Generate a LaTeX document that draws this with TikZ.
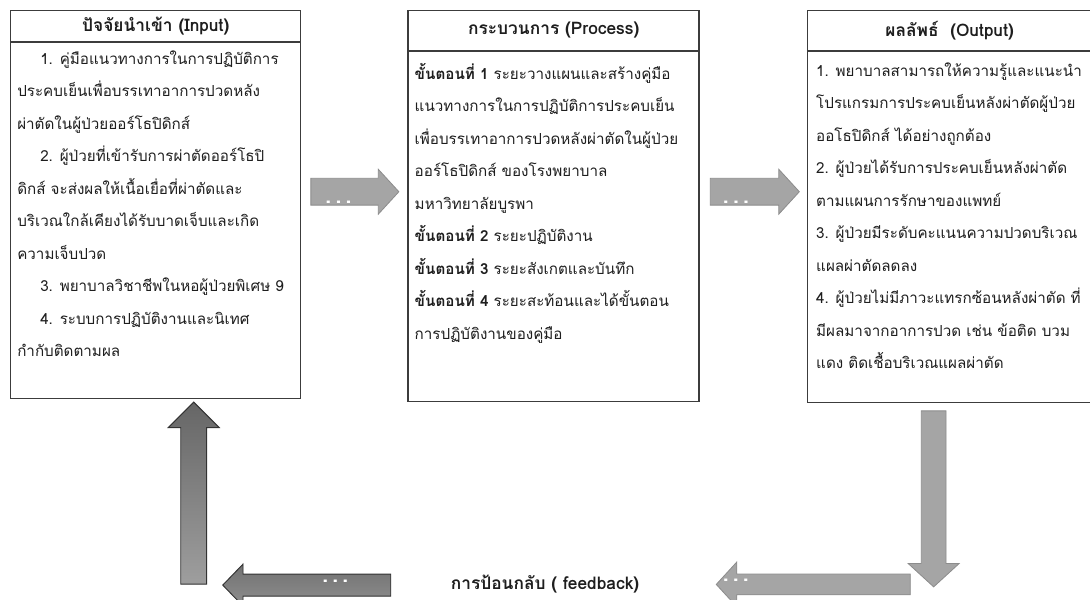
\documentclass[tikz,border=0pt]{standalone}
\usepackage{fontspec}
\setmainfont[Script=Thai]{Loma}
\usetikzlibrary{positioning, calc, shapes.arrows}
\definecolor{boxline}{HTML}{3C3C3C}
\definecolor{txt}{HTML}{1E1E1E}
\definecolor{lightarrow}{HTML}{A5A5A5}
\definecolor{lightedge}{HTML}{8C8C8C}
\definecolor{darkedge}{HTML}{333333}
\tikzstyle{Box} = [draw=boxline, line width=1.1pt, inner sep=0pt, anchor=north west]
\tikzstyle{Rule} = [draw=boxline, line width=1.1pt]
\tikzstyle{Head} = [font=\bfseries\fontsize{13}{16}\selectfont, text=txt, inner sep=0pt]
\tikzstyle{Body} = [font=\fontsize{11.4}{24.4}\selectfont, text=txt, align=left, inner sep=0pt, anchor=base west]
\tikzstyle{BlockArrow} = [single arrow, text width=0pt, text height=0pt, text depth=0pt,
single arrow tip angle=95, draw=lightedge, fill=lightarrow, line width=0.6pt]
\tikzstyle{DarkArrow} = [BlockArrow, draw=darkedge, line width=0.7pt]
\tikzstyle{Dots} = [font=\bfseries\fontsize{17}{17}\selectfont, text=white, inner sep=0pt]

\begin{document}
\begin{tikzpicture}[x=0.75pt, y=-0.75pt]
    \path[use as bounding box, fill=white] (0,0) rectangle (1090,600);
    % the three boxes
    \node [Box, minimum width=217.5pt, minimum height=291pt] (1) at (10,10) {};
    \node [Box, minimum width=218.25pt, minimum height=293.25pt,
        below right=0pt and 79.5pt of 1.north east] (2) {};
    \node [Box, minimum width=213pt, minimum height=294pt,
        below right=0pt and 80.25pt of 2.north east] (3) {};
    \draw[Rule] ($(1.north west)+(0,32)$) -- ($(1.north east)+(0,32)$);
    \draw[Rule] ($(2.north west)+(0,41)$) -- ($(2.north east)+(0,41)$);
    \draw[Rule] ($(3.north west)+(0,41)$) -- ($(3.north east)+(0,41)$);
    \node [Head] (4) at ($(1.north)+(0,16)$) {ปัจจัยนำเข้า (Input)};
    \node [Head] (5) at ($(2.north)+(0,20.5)$) {กระบวนการ (Process)};
    \node [Head] (6) at ($(3.north)+(0,20.5)$) {ผลลัพธ์~ (Output)};
    % body texts, anchored at the baseline of their last line
    \node [Body] (7) at ($(1.north west)+(7,346.8)$) {%
        \hspace*{17.25pt}1. คู่มือแนวทางการในการปฏิบัติการ\\
        ประคบเย็นเพื่อบรรเทาอาการปวดหลัง\\
        ผ่าตัดในผู้ป่วยออร์โธปิดิกส์\\
        \hspace*{17.25pt}2. ผู้ป่วยที่เข้ารับการผ่าตัดออร์โธปิ\\
        ดิกส์ จะส่งผลให้เนื้อเยื่อที่ผ่าตัดและ\\
        บริเวณใกล้เคียงได้รับบาดเจ็บและเกิด\\
        ความเจ็บปวด\\
        \hspace*{17.25pt}3. พยาบาลวิชาชีพในหอผู้ป่วยพิเศษ 9\\
        \hspace*{17.25pt}4. ระบบการปฏิบัติงานและนิเทศ\\
        กำกับติดตามผล};
    \node [Body] (8) at ($(2.north west)+(7,329.3)$) {%
        \textbf{ขั้นตอนที่ 1} ระยะวางแผนและสร้างคู่มือ\\
        แนวทางการในการปฏิบัติการประคบเย็น\\
        เพื่อบรรเทาอาการปวดหลังผ่าตัดในผู้ป่วย\\
        ออร์โธปิดิกส์ ของโรงพยาบาล\\
        มหาวิทยาลัยบูรพา\\
        \textbf{ขั้นตอนที่ 2} ระยะปฏิบัติงาน\\
        \textbf{ขั้นตอนที่ 3} ระยะสังเกตและบันทึก\\
        \textbf{ขั้นตอนที่ 4} ระยะสะท้อนและได้ขั้นตอน\\
        การปฏิบัติงานของคู่มือ};
    \node [Body] (9) at ($(3.north west)+(9,358.8)$) {%
        1. พยาบาลสามารถให้ความรู้และแนะนำ\\
        โปรแกรมการประคบเย็นหลังผ่าตัดผู้ป่วย\\
        ออโธปิดิกส์ ได้อย่างถูกต้อง\\
        2. ผู้ป่วยได้รับการประคบเย็นหลังผ่าตัด\\
        ตามแผนการรักษาของแพทย์\\
        3. ผู้ป่วยมีระดับคะแนนความปวดบริเวณ\\
        แผลผ่าตัดลดลง\\
        4. ผู้ป่วยไม่มีภาวะแทรกซ้อนหลังผ่าตัด ที่\\
        มีผลมาจากอาการปวด เช่น ข้อติด บวม\\
        แดง ติดเชื้อบริเวณแผลผ่าตัด};
    % block arrows
    \node [BlockArrow, inner sep=9.75pt, single arrow head extend=6.75pt,
        minimum height=66pt, anchor=tail] (10) at ($(1.east)+(9,-13)$) {};
    \node [BlockArrow, inner sep=9.75pt, single arrow head extend=6.75pt,
        minimum height=66.75pt, anchor=tail] (11) at ($(2.east)+(10,-14.5)$) {};
    \node [BlockArrow, shape border rotate=270, inner sep=9pt, single arrow head extend=9.75pt,
        minimum height=132pt, anchor=tail] (12) at ($(3.south)+(-16,7)$) {};
    \node [BlockArrow, shape border rotate=180, inner sep=7.5pt, single arrow head extend=9pt,
        minimum height=145.5pt, anchor=tail] (13) at ($(12.tip)+(-23,-3)$) {};
    \node [DarkArrow, shape border rotate=90, inner sep=9.375pt, single arrow head extend=9.375pt,
        single arrow tip angle=90, minimum height=136.5pt, anchor=tip,
        top color=black!60, bottom color=black!38] (15) at ($(1.south)+(38,2)$) {};
    \node [DarkArrow, shape border rotate=180, inner sep=7.875pt, single arrow head extend=7.5pt,
        single arrow tip angle=92, minimum height=126pt, anchor=tail,
        top color=black!56, bottom color=black!44] (14) at ($(15.tail)+(197.5,0.5)$) {};
    \node [Dots] (16) at ($(10.tail)+(28,11)$) {.\,.\,.};
    \node [Dots] (17) at ($(11.tail)+(26,11)$) {.\,.\,.};
    \node [Dots] (18) at ($(13.tip)+(20,-4)$) {.\,.\,.};
    \node [Dots] (19) at ($(14.tail)+(-56,-4)$) {.\,.\,.};
    \node [font=\bfseries\fontsize{13}{16}\selectfont, text=txt, inner sep=0pt]
        (20) at (545,584) {การป้อนกลับ ( feedback)};
\end{tikzpicture}
\end{document}
